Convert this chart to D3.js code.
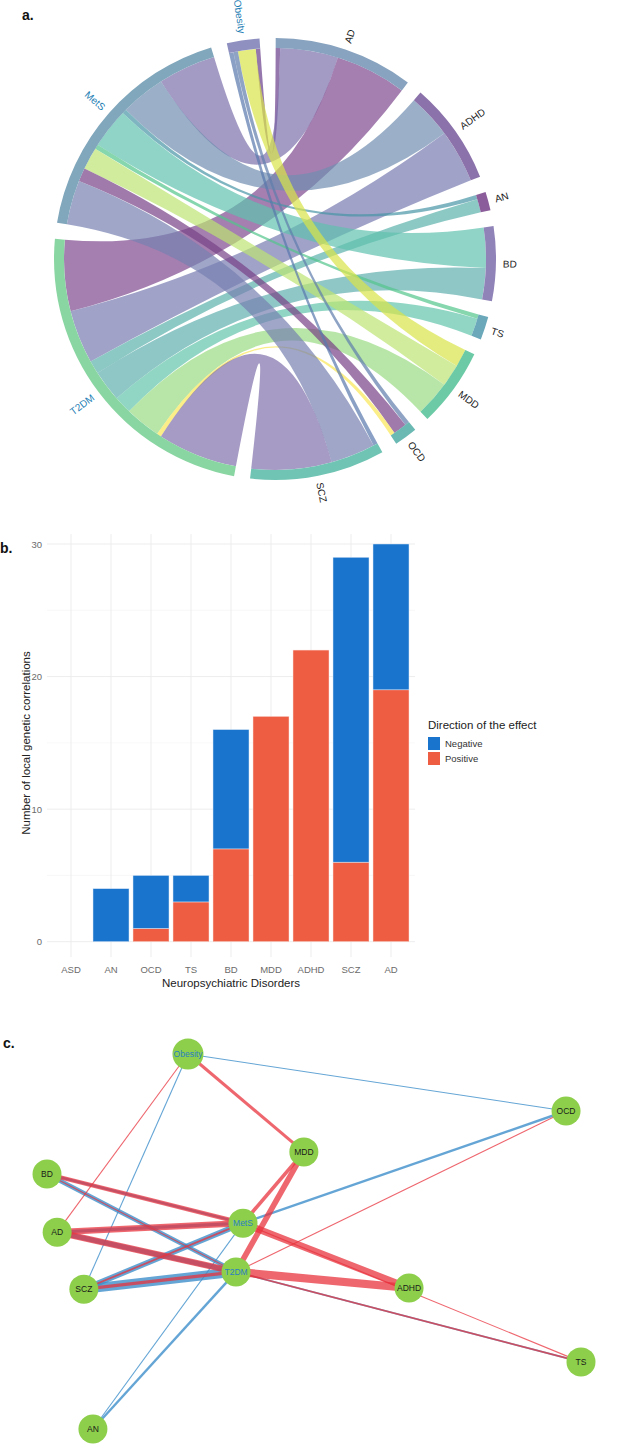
<!DOCTYPE html>
<html>
<head>
<meta charset="utf-8">
<script src="https://cdn.jsdelivr.net/npm/d3@7"></script>
<style>
  body { margin: 0; background: #fff; }
  svg { display: block; font-family: "Liberation Sans", Arial, Helvetica, sans-serif; }
</style>
</head>
<body>
<div id="container"></div>
<script>
/* CONSTANTS AND GLOBALS */
const width = 629, height = 1445;

/* DATA */
// chord sectors, clockwise from the top
const sectors = ["Obesity", "AD", "ADHD", "AN", "BD", "TS", "MDD", "OCD", "SCZ", "T2DM", "MetS"];
const metabolic = ["Obesity", "MetS", "T2DM"];

// local genetic correlations between each disorder and metabolic trait
const linkDisorder = ["AD", "AD", "AD", "ADHD", "ADHD", "AN", "AN", "BD", "BD", "TS", "TS", "MDD", "MDD", "MDD", "OCD", "OCD", "OCD", "SCZ", "SCZ", "SCZ"];
const linkTrait = ["Obesity", "MetS", "T2DM", "MetS", "T2DM", "MetS", "T2DM", "MetS", "T2DM", "MetS", "T2DM", "Obesity", "MetS", "T2DM", "Obesity", "MetS", "T2DM", "Obesity", "MetS", "T2DM"];
const linkPositive = [1, 9, 9, 10, 12, 0, 0, 6, 1, 1, 2, 4, 5, 8, 0, 0, 1, 0, 2, 4];
const linkNegative = [0, 4, 7, 0, 0, 1, 3, 3, 6, 0, 2, 0, 0, 0, 1, 3, 0, 1, 8, 14];

// bar chart
const barDisorders = ["ASD", "AN", "OCD", "TS", "BD", "MDD", "ADHD", "SCZ", "AD"];
const barPositive = [0, 0, 1, 3, 7, 17, 22, 6, 19];
const barNegative = [0, 4, 4, 2, 9, 0, 0, 23, 11];
const yTicks = [0, 10, 20, 30];
const yMinor = [5, 15, 25];
const directions = ["Negative", "Positive"];

// network layout coordinates (unit square)
const nodeNames = ["Obesity", "MDD", "BD", "AD", "MetS", "T2DM", "ADHD", "TS", "OCD", "SCZ", "AN"];
const nodeX = [0.264, 0.481, 0, 0.019, 0.367, 0.354, 0.678, 1, 0.972, 0.069, 0.086];
const nodeY = [0, 0.261, 0.32, 0.475, 0.451, 0.581, 0.624, 0.821, 0.152, 0.627, 1];

/* STYLES */
const sectorColor = {
  Obesity: "#8f90c0", AD: "#88a3bf", ADHD: "#8b72aa", AN: "#8b5d9a", BD: "#9083b8", TS: "#6aa8ba",
  MDD: "#6ccaa6", OCD: "#6bb9b3", SCZ: "#70c4b4", T2DM: "#8ad6a2", MetS: "#80a7bc"
};
const ribbonColor = {
  "AD-Obesity": "#6a3d8a", "AD-MetS": "#7d70ac", "AD-T2DM": "#7d488e",
  "ADHD-MetS": "#708eb0", "ADHD-T2DM": "#777ab0",
  "AN-MetS": "#4895a5", "AN-T2DM": "#5bb0ab",
  "BD-MetS": "#5fc2ae", "BD-T2DM": "#5faeae",
  "TS-MetS": "#52c48b", "TS-T2DM": "#63c4ab",
  "MDD-Obesity": "#d9e44a", "MDD-MetS": "#bce472", "MDD-T2DM": "#9adb83",
  "OCD-Obesity": "#5f7eac", "OCD-MetS": "#774186", "OCD-T2DM": "#f9e755",
  "SCZ-Obesity": "#5878ac", "SCZ-MetS": "#7680b0", "SCZ-T2DM": "#8070ab"
};
const traitText = "#1f7fb5";
const posColor = "#ee5c42", negColor = "#1874cd";

// APPEND SVG
const svg = d3.select("#container")
  .append("svg")
  .attr("width", width)
  .attr("height", height);

// PANEL LETTERS
svg.selectAll("text.panel")
  .data([["a.", 22, 20], ["b.", 0, 553], ["c.", 3, 1048]])
  .join("text")
  .attr("class", "panel")
  .attr("x", d => d[1])
  .attr("y", d => d[2])
  .attr("font-size", 14)
  .attr("font-weight", "bold")
  .attr("fill", "#111")
  .text(d => d[0]);

/* ---------------- a. CHORD DIAGRAM ---------------- */
const links = linkDisorder.map((d, i) => ({
  disorder: d, trait: linkTrait[i], value: linkPositive[i] + linkNegative[i]
}));
const totals = new Map(sectors.map(s => [s, 0]));
links.forEach(l => {
  totals.set(l.disorder, totals.get(l.disorder) + l.value);
  totals.set(l.trait, totals.get(l.trait) + l.value);
});
const total = d3.sum(sectors, s => totals.get(s));
const pad = 4.2 * Math.PI / 180;
const start0 = -12.6 * Math.PI / 180;
const angle = d3.scaleLinear().domain([0, total]).range([0, 2 * Math.PI - pad * sectors.length]);

let cursor = start0;
const groups = sectors.map((s, i) => {
  const g = { name: s, index: i, startAngle: cursor, endAngle: cursor + angle(totals.get(s)) };
  cursor = g.endAngle + pad;
  return g;
});

// links inside each sector, nearest counter-clockwise partner first
const n = sectors.length;
groups.forEach(g => {
  const mine = links
    .filter(l => l.disorder === g.name || l.trait === g.name)
    .map(l => ({ l, other: l.disorder === g.name ? l.trait : l.disorder }))
    .sort((p, q) => ((g.index - sectors.indexOf(p.other) + n) % n) - ((g.index - sectors.indexOf(q.other) + n) % n));
  let s = g.startAngle;
  mine.forEach(m => {
    const e = { startAngle: s, endAngle: s + angle(m.l.value) };
    s = e.endAngle;
    if (m.l.disorder === g.name) m.l.source = e; else m.l.target = e;
  });
});

const rOuter = 221, rInner = 211;
const chordG = svg.append("g").attr("transform", "translate(275,259)");

chordG.selectAll("path.ribbon")
  .data(links)
  .join("path")
  .attr("class", "ribbon")
  .attr("d", d3.ribbon().radius(rInner))
  .attr("fill", d => ribbonColor[d.disorder + "-" + d.trait])
  .attr("fill-opacity", 0.7);

chordG.selectAll("path.track")
  .data(groups)
  .join("path")
  .attr("class", "track")
  .attr("d", d3.arc().innerRadius(rInner).outerRadius(rOuter))
  .attr("fill", d => sectorColor[d.name]);

chordG.selectAll("text.sector")
  .data(groups)
  .join("text")
  .attr("class", "sector")
  .attr("transform", g => {
    const mid = (g.startAngle + g.endAngle) / 2;
    const deg = ((mid * 180 / Math.PI) + 360) % 360;
    const rot = deg < 180 ? deg - 90 : deg + 90;
    return `translate(${228 * Math.sin(mid)},${-228 * Math.cos(mid)}) rotate(${rot})`;
  })
  .attr("text-anchor", g => {
    const deg = (((g.startAngle + g.endAngle) / 2 * 180 / Math.PI) + 360) % 360;
    return deg < 180 ? "start" : "end";
  })
  .attr("dominant-baseline", "central")
  .attr("font-size", 10)
  .attr("fill", g => metabolic.includes(g.name) ? traitText : "#222")
  .text(g => g.name);

/* ---------------- b. STACKED BARS ---------------- */
const x = d3.scaleBand()
  .domain(barDisorders)
  .range([47, 415])
  .paddingInner(0.1)
  .paddingOuter(0.15);

const y = d3.scaleLinear()
  .domain([0, 30])
  .range([941.7, 544]);

const gridTop = y(30.75), gridBottom = y(-1.15);

svg.selectAll("line.minor")
  .data(yMinor)
  .join("line")
  .attr("class", "minor")
  .attr("x1", 47).attr("x2", 415)
  .attr("y1", d => y(d)).attr("y2", d => y(d))
  .attr("stroke", "#f4f4f4").attr("stroke-width", 0.6);

svg.selectAll("line.major")
  .data(yTicks)
  .join("line")
  .attr("class", "major")
  .attr("x1", 47).attr("x2", 415)
  .attr("y1", d => y(d)).attr("y2", d => y(d))
  .attr("stroke", "#ebebeb").attr("stroke-width", 0.9);

svg.selectAll("line.vgrid")
  .data(barDisorders)
  .join("line")
  .attr("class", "vgrid")
  .attr("x1", d => x(d) + x.bandwidth() / 2).attr("x2", d => x(d) + x.bandwidth() / 2)
  .attr("y1", gridTop).attr("y2", gridBottom)
  .attr("stroke", "#ebebeb").attr("stroke-width", 0.9);

// negative stacked above positive
svg.selectAll("rect.pos")
  .data(barDisorders.map((d, i) => ({ d, v: barPositive[i] })).filter(o => o.v > 0))
  .join("rect")
  .attr("class", "pos")
  .attr("x", o => x(o.d))
  .attr("width", x.bandwidth())
  .attr("y", o => y(o.v))
  .attr("height", o => y(0) - y(o.v))
  .attr("fill", posColor)
  .attr("stroke", "#fbe3de").attr("stroke-width", 0.5);

svg.selectAll("rect.neg")
  .data(barDisorders.map((d, i) => ({ d, lo: barPositive[i], hi: barPositive[i] + barNegative[i] })).filter(o => o.hi > o.lo))
  .join("rect")
  .attr("class", "neg")
  .attr("x", o => x(o.d))
  .attr("width", x.bandwidth())
  .attr("y", o => y(o.hi))
  .attr("height", o => y(o.lo) - y(o.hi))
  .attr("fill", negColor)
  .attr("stroke", "#dbe8f6").attr("stroke-width", 0.5);

// axes
const yAxis = svg.append("g")
  .attr("transform", "translate(47,0)")
  .call(d3.axisLeft(y).tickValues(yTicks).tickSize(0).tickPadding(5));
const xAxis = svg.append("g")
  .attr("transform", `translate(0,${gridBottom})`)
  .call(d3.axisBottom(x).tickSize(0).tickPadding(9));
[yAxis, xAxis].forEach(ax => {
  ax.select(".domain").remove();
  ax.selectAll("text")
    .attr("font-size", 9.5)
    .attr("fill", "#6b6b6b")
    .attr("font-family", "'Liberation Sans', Arial, sans-serif");
});

svg.append("text")
  .attr("x", 231).attr("y", 987)
  .attr("text-anchor", "middle")
  .attr("font-size", 11.5)
  .attr("fill", "#222")
  .text("Neuropsychiatric Disorders");

svg.append("text")
  .attr("transform", "translate(30,743) rotate(-90)")
  .attr("text-anchor", "middle")
  .attr("font-size", 11.5)
  .attr("fill", "#222")
  .text("Number of local genetic correlations");

// legend
svg.append("text")
  .attr("x", 428).attr("y", 729)
  .attr("font-size", 11.5)
  .attr("fill", "#222")
  .text("Direction of the effect");

const legend = svg.selectAll("g.key")
  .data(directions)
  .join("g")
  .attr("class", "key")
  .attr("transform", (d, i) => `translate(428,${737 + i * 15})`);
legend.append("rect")
  .attr("width", 12).attr("height", 13)
  .attr("fill", d => d === "Negative" ? negColor : posColor);
legend.append("text")
  .attr("x", 17).attr("y", 6.5)
  .attr("dominant-baseline", "central")
  .attr("font-size", 9.5)
  .attr("fill", "#333")
  .text(d => d);

/* ---------------- c. NETWORK ---------------- */
const nx = d3.scaleLinear().domain([0, 1]).range([47, 581]);
const ny = d3.scaleLinear().domain([0, 1]).range([1054, 1429]);
const edgeWidth = d3.scaleLinear().domain([1, 14]).range([1.1, 9.5]);
const nodePos = new Map(nodeNames.map((nm, i) => [nm, [nx(nodeX[i]), ny(nodeY[i])]]));

const edges = [];
links.forEach((l, i) => {
  if (linkNegative[i] > 0) edges.push({ a: l.disorder, b: l.trait, v: linkNegative[i], sign: "neg" });
});
links.forEach((l, i) => {
  if (linkPositive[i] > 0) edges.push({ a: l.disorder, b: l.trait, v: linkPositive[i], sign: "pos" });
});

svg.selectAll("line.edge")
  .data(edges)
  .join("line")
  .attr("class", "edge")
  .attr("x1", e => nodePos.get(e.a)[0]).attr("y1", e => nodePos.get(e.a)[1])
  .attr("x2", e => nodePos.get(e.b)[0]).attr("y2", e => nodePos.get(e.b)[1])
  .attr("stroke", e => e.sign === "pos" ? "#e8333d" : "#3d8fca")
  .attr("stroke-opacity", e => e.sign === "pos" ? 0.75 : 0.8)
  .attr("stroke-width", e => edgeWidth(e.v));

const nodes = svg.selectAll("g.node")
  .data(nodeNames)
  .join("g")
  .attr("class", "node")
  .attr("transform", nm => `translate(${nodePos.get(nm)[0]},${nodePos.get(nm)[1]})`);
nodes.append("circle")
  .attr("r", nm => nm === "Obesity" ? 15.5 : 14.5)
  .attr("fill", "#8dcf4b");
nodes.append("text")
  .attr("text-anchor", "middle")
  .attr("dominant-baseline", "central")
  .attr("font-size", 8.5)
  .attr("fill", nm => metabolic.includes(nm) ? "#2a7fc0" : "#1a1a1a")
  .text(nm => nm);
</script>
</body>
</html>
